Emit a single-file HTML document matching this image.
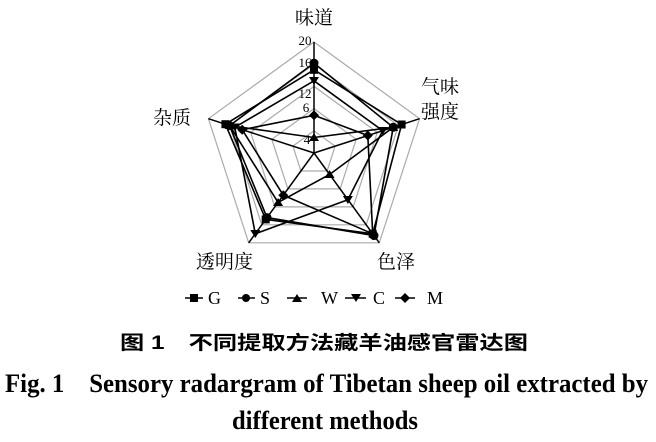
<!DOCTYPE html>
<html><head><meta charset="utf-8"><style>
html,body{margin:0;padding:0;background:#fff;width:656px;height:442px;overflow:hidden}
svg{display:block}
</style></head><body>
<svg width="656" height="442" viewBox="0 0 656 442" xmlns="http://www.w3.org/2000/svg">
<g fill="none" stroke="#aaa" stroke-width="1.2">
<polygon points="314,42 419.6,118.7 379.3,242.8 248.7,242.8 208.4,118.7"/>
<polygon points="314,64.2 398.4,125.6 366.2,224.8 261.8,224.8 229.6,125.6"/>
<polygon points="314,86.4 377.3,132.4 353.2,206.9 274.8,206.9 250.7,132.4"/>
<polygon points="314,108.6 356.2,139.3 340.1,188.9 287.9,188.9 271.8,139.3"/>
<polygon points="314,130.8 335.1,146.1 327.1,171 300.9,171 292.9,146.1"/>
</g>
<g stroke="#000" stroke-width="1.5">
<line x1="314" y1="153" x2="314" y2="42"/>
<line x1="314" y1="153" x2="419.6" y2="118.7"/>
<line x1="314" y1="153" x2="379.3" y2="242.8"/>
<line x1="314" y1="153" x2="248.7" y2="242.8"/>
<line x1="314" y1="153" x2="208.4" y2="118.7"/>
</g>
<g font-family="Liberation Serif, serif" font-size="13" fill="#000" text-anchor="middle">
<text x="305" y="45">20</text>
<text x="305" y="67">16</text>
<text x="305" y="98">12</text>
<text x="306" y="112">6</text>
<text x="307" y="144">4</text>
</g>
<g fill="none" stroke="#000" stroke-width="1.6">
<polygon points="314,69.8 401.6,124.5 372.7,233.8 265.7,219.4 225.4,124.2"/>
<polygon points="314,63.1 393.2,127.3 374,235.6 267,217.6 229.6,125.6"/>
<polygon points="314,80.8 382.7,130.7 347.9,199.7 255.3,233.8 234.8,127.3"/>
<polygon points="314,115.3 367.8,135.5 372.7,233.8 283.3,195.2 242.2,129.7"/>
<polygon points="314,137.5 393.2,127.3 329.6,174.5 278.1,202.4 229.6,125.6"/>
</g>
<g fill="#000">
<rect x="310" y="65.8" width="8" height="8"/><rect x="397.6" y="120.5" width="8" height="8"/><rect x="368.7" y="229.8" width="8" height="8"/><rect x="261.7" y="215.4" width="8" height="8"/><rect x="221.4" y="120.2" width="8" height="8"/>
<circle cx="314" cy="63.1" r="4.5"/><circle cx="393.2" cy="127.3" r="4.5"/><circle cx="374" cy="235.6" r="4.5"/><circle cx="267" cy="217.6" r="4.5"/><circle cx="229.6" cy="125.6" r="4.5"/>
<polygon points="309,77 319,77 314,85"/><polygon points="377.7,127 387.7,127 382.7,135"/><polygon points="342.9,196 352.9,196 347.9,204"/><polygon points="250.3,230 260.3,230 255.3,238"/><polygon points="229.8,123.5 239.8,123.5 234.8,131.5"/>
<polygon points="314,110.3 319,115.3 314,120.3 309,115.3"/><polygon points="367.8,130.5 372.8,135.5 367.8,140.5 362.8,135.5"/><polygon points="372.7,228.8 377.7,233.8 372.7,238.8 367.7,233.8"/><polygon points="283.3,190.2 288.3,195.2 283.3,200.2 278.3,195.2"/><polygon points="242.2,124.7 247.2,129.7 242.2,134.7 237.2,129.7"/>
<polygon points="309,141 319,141 314,133"/><polygon points="388.2,131 398.2,131 393.2,123"/><polygon points="324.6,178 334.6,178 329.6,170"/><polygon points="273.1,206 283.1,206 278.1,198"/><polygon points="224.6,129 234.6,129 229.6,121"/>
</g>
<g font-family="Liberation Serif, 'Noto Serif CJK SC', serif" font-size="19" fill="#000">
<text x="314" y="24" text-anchor="middle">味道</text>
<text x="421" y="93">气味</text>
<text x="421" y="118">强度</text>
<text x="153" y="124">杂质</text>
<text x="196" y="268">透明度</text>
<text x="377" y="268">色泽</text>
</g>
<g stroke="#000" stroke-width="1.6">
<line x1="185" y1="298" x2="203" y2="298"/>
<line x1="238" y1="298" x2="255" y2="298"/>
<line x1="287" y1="298" x2="307" y2="298"/>
<line x1="345" y1="298" x2="366" y2="298"/>
<line x1="395" y1="298" x2="415" y2="298"/>
</g>
<g fill="#000">
<rect x="190" y="294" width="8" height="8"/>
<circle cx="246" cy="298" r="4"/>
<polygon points="292,302 302,302 297,294"/>
<polygon points="351,294 361,294 356,302"/>
<polygon points="405,293 410,298 405,303 400,298"/>
</g>
<g font-family="Liberation Serif, serif" font-size="18" fill="#000">
<text x="208" y="304">G</text>
<text x="260" y="304">S</text>
<text x="321" y="304">W</text>
<text x="373" y="304">C</text>
<text x="427" y="304">M</text>
</g>
<text x="324" y="349" text-anchor="middle" font-family="Liberation Sans, 'Noto Sans CJK SC', sans-serif" font-size="19" font-weight="bold" textLength="408" lengthAdjust="spacingAndGlyphs">图 1　不同提取方法藏羊油感官雷达图</text>
<g font-family="Liberation Serif, serif" font-size="26" font-weight="bold" fill="#000">
<text x="5" y="392" textLength="643" lengthAdjust="spacingAndGlyphs">Fig. 1　Sensory radargram of Tibetan sheep oil extracted by</text>
<text x="232" y="429" textLength="186" lengthAdjust="spacingAndGlyphs">different methods</text>
</g>
</svg>
</body></html>
